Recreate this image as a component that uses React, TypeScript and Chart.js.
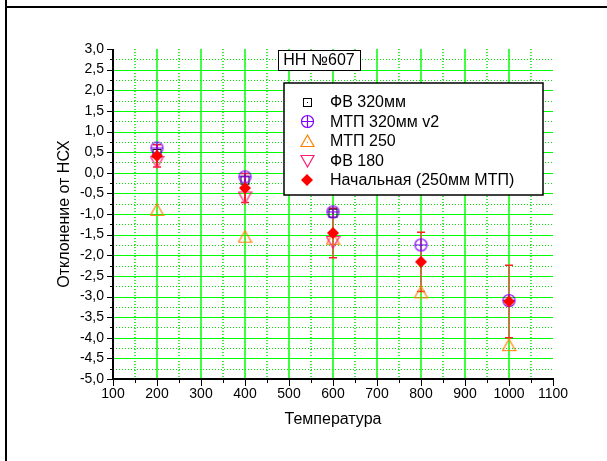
import React, { useEffect, useRef } from 'react';
import { Chart, registerables } from 'chart.js';

Chart.register(...registerables);

// ---- data ----
const temperatures = [200, 400, 600, 800, 1000];
const fv320 = [0.47, -0.18, -0.98, null, null];
const mtp320v2 = [0.6, -0.1, -0.95, -1.75, -3.1];
const mtp250 = [-0.9, -1.55, -1.6, -2.9, -4.18];
const fv180 = [0.26, -0.6, -1.68, null, null];
const initial = [0.41, -0.37, -1.46, -2.16, -3.12];
const initialErr = [0.27, 0.35, 0.6, 0.72, 0.88];

const seriesNames = ['ФВ 320мм', 'МТП 320мм v2', 'МТП 250', 'ФВ 180', 'Начальная (250мм МТП)'];
const plotTitle = 'НН №607';
const xTitle = 'Температура';
const yTitle = 'Отклонение от НСХ';

const FONT = '"Liberation Sans", Arial, sans-serif';

function mk(w: number, h: number, draw: (c: CanvasRenderingContext2D) => void) {
  const cv = document.createElement('canvas');
  cv.width = w;
  cv.height = h;
  const c = cv.getContext('2d')!;
  draw(c);
  return cv;
}

const squareImg = mk(11, 11, (c) => {
  c.strokeStyle = '#000';
  c.lineWidth = 1;
  c.strokeRect(1.5, 1.5, 8, 8);
  c.fillStyle = '#000';
  c.fillRect(5, 5, 1, 1);
});
const circlePlusImg = mk(15, 15, (c) => {
  c.strokeStyle = '#8000ff';
  c.lineWidth = 1.2;
  c.beginPath();
  c.arc(7.5, 7.5, 6, 0, Math.PI * 2);
  c.stroke();
  c.beginPath();
  c.moveTo(1.5, 7.5);
  c.lineTo(13.5, 7.5);
  c.moveTo(7.5, 1.5);
  c.lineTo(7.5, 13.5);
  c.stroke();
});
const triUpImg = mk(15, 14, (c) => {
  c.strokeStyle = '#ff8000';
  c.lineWidth = 1.2;
  c.beginPath();
  c.moveTo(7.5, 1);
  c.lineTo(1, 12.5);
  c.lineTo(14, 12.5);
  c.closePath();
  c.stroke();
  c.fillStyle = '#ff8000';
  c.fillRect(7, 8, 1, 1);
});
const triDownImg = mk(15, 14, (c) => {
  c.strokeStyle = '#ff1a75';
  c.lineWidth = 1.2;
  c.beginPath();
  c.moveTo(1, 1.5);
  c.lineTo(14, 1.5);
  c.lineTo(7.5, 13);
  c.closePath();
  c.stroke();
});
const diamondImg = mk(12, 12, (c) => {
  c.fillStyle = '#ff0000';
  c.beginPath();
  c.moveTo(6, 0);
  c.lineTo(12, 6);
  c.lineTo(6, 12);
  c.lineTo(0, 6);
  c.closePath();
  c.fill();
});

const markerImgs = [squareImg, circlePlusImg, triUpImg, triDownImg, diamondImg];

const customPlugin = {
  id: 'customDecor',
  beforeDatasetsDraw(chart: any) {
    const { ctx, chartArea: a, scales } = chart;
    const x = scales.x;
    const y = scales.y;
    const xt: number[] = x.ticks.map((t: any) => t.value);
    const yt: number[] = y.ticks.map((t: any) => t.value);
    ctx.save();
    // minor dotted grid
    ctx.strokeStyle = '#00e000';
    ctx.setLineDash([1, 2]);
    ctx.lineWidth = 1.5;
    ctx.beginPath();
    for (let i = 0; i < xt.length - 1; i++) {
      const px = Math.round(x.getPixelForValue((xt[i] + xt[i + 1]) / 2));
      ctx.moveTo(px, a.top);
      ctx.lineTo(px, a.bottom);
    }
    ctx.stroke();
    ctx.lineWidth = 1;
    ctx.beginPath();
    for (let i = 0; i < yt.length - 1; i++) {
      const py = Math.round(y.getPixelForValue((yt[i] + yt[i + 1]) / 2)) + 0.5;
      ctx.moveTo(a.left, py);
      ctx.lineTo(a.right, py);
    }
    ctx.stroke();
    // major solid grid
    ctx.setLineDash([]);
    ctx.strokeStyle = '#00ff00';
    ctx.lineWidth = 1.5;
    ctx.beginPath();
    for (let i = 1; i < xt.length - 1; i++) {
      const px = Math.round(x.getPixelForValue(xt[i]));
      ctx.moveTo(px, a.top);
      ctx.lineTo(px, a.bottom);
    }
    ctx.stroke();
    ctx.lineWidth = 1;
    ctx.beginPath();
    for (let i = 1; i < yt.length - 1; i++) {
      const py = Math.round(y.getPixelForValue(yt[i])) + 0.5;
      ctx.moveTo(a.left, py);
      ctx.lineTo(a.right, py);
    }
    ctx.stroke();
    // error bars of initial series
    for (let i = 0; i < temperatures.length; i++) {
      const v = initial[i];
      const e = initialErr[i];
      if (v == null) continue;
      const px = Math.round(x.getPixelForValue(temperatures[i]));
      const pTop = y.getPixelForValue(v + e);
      const pBot = y.getPixelForValue(v - e);
      ctx.strokeStyle = i < 2 ? '#ee2222' : '#b97a3c';
      ctx.lineWidth = 2;
      ctx.beginPath();
      ctx.moveTo(px, pTop);
      ctx.lineTo(px, pBot);
      ctx.stroke();
      ctx.strokeStyle = '#ff2020';
      ctx.lineWidth = 1.5;
      ctx.beginPath();
      ctx.moveTo(px - 4, pTop);
      ctx.lineTo(px + 4, pTop);
      ctx.moveTo(px - 4, pBot);
      ctx.lineTo(px + 4, pBot);
      ctx.stroke();
    }
    ctx.restore();
  },
  afterDraw(chart: any) {
    const { ctx, chartArea: a, scales } = chart;
    const x = scales.x;
    const y = scales.y;
    const xt: number[] = x.ticks.map((t: any) => t.value);
    const yt: number[] = y.ticks.map((t: any) => t.value);
    ctx.save();
    // axes
    ctx.strokeStyle = '#000';
    ctx.lineWidth = 2;
    ctx.beginPath();
    ctx.moveTo(a.left, a.top);
    ctx.lineTo(a.left, a.bottom + 1);
    ctx.moveTo(a.left - 1, a.bottom);
    ctx.lineTo(a.right + 1, a.bottom);
    ctx.stroke();
    ctx.lineWidth = 1;
    ctx.beginPath();
    yt.forEach((v, i) => {
      const py = Math.round(y.getPixelForValue(v)) + 0.5;
      ctx.moveTo(a.left - 6, py);
      ctx.lineTo(a.left, py);
      if (i < yt.length - 1) {
        const pm = Math.round(y.getPixelForValue((v + yt[i + 1]) / 2)) + 0.5;
        ctx.moveTo(a.left - 3, pm);
        ctx.lineTo(a.left, pm);
      }
    });
    xt.forEach((v, i) => {
      const px = Math.round(x.getPixelForValue(v)) + 0.5;
      ctx.moveTo(px, a.bottom);
      ctx.lineTo(px, a.bottom + 7);
      if (i < xt.length - 1) {
        const pm = Math.round(x.getPixelForValue((v + xt[i + 1]) / 2)) + 0.5;
        ctx.moveTo(pm, a.bottom);
        ctx.lineTo(pm, a.bottom + 4);
      }
    });
    ctx.stroke();

    // axis titles
    ctx.fillStyle = '#000';
    ctx.font = `16px ${FONT}`;
    ctx.textAlign = 'center';
    ctx.textBaseline = 'middle';
    ctx.fillText(xTitle, (a.left + a.right) / 2, a.bottom + 41);
    ctx.save();
    ctx.translate(a.left - 48, (a.top + a.bottom) / 2);
    ctx.rotate(-Math.PI / 2);
    ctx.fillText(yTitle, 0, 0);
    ctx.restore();

    // title box
    const tx = a.left + 165;
    const ty = a.top + 1;
    ctx.fillStyle = '#fff';
    ctx.fillRect(tx, ty, 82, 20);
    ctx.strokeStyle = '#000';
    ctx.lineWidth = 1;
    ctx.strokeRect(tx + 0.5, ty + 0.5, 82, 20);
    ctx.fillStyle = '#000';
    ctx.font = `16px ${FONT}`;
    ctx.fillText(plotTitle, tx + 41, ty + 11);

    // legend box
    const lx = a.left + 171;
    const ly = a.top + 34;
    const lw = 259;
    const lh = 112;
    ctx.fillStyle = '#fff';
    ctx.fillRect(lx, ly, lw, lh);
    ctx.lineWidth = 1.5;
    ctx.strokeRect(lx, ly, lw, lh);
    ctx.textAlign = 'left';
    ctx.fillStyle = '#000';
    ctx.font = `16px ${FONT}`;
    seriesNames.forEach((name, i) => {
      const cy = ly + 19 + i * 19.5;
      const img = markerImgs[i];
      ctx.drawImage(img, Math.round(lx + 23 - img.width / 2), Math.round(cy - img.height / 2));
      ctx.fillText(name, lx + 46, cy + 1);
    });
    ctx.restore();
  },
};

export default function App() {
  const ref = useRef<HTMLCanvasElement>(null);
  useEffect(() => {
    if (!ref.current) return;
    const series = [fv320, mtp320v2, mtp250, fv180, initial];
    const orders = [5, 4, 3, 2, 1];
    const chart = new Chart(ref.current, {
      type: 'scatter',
      data: {
        datasets: series.map((vals, i) => ({
          label: seriesNames[i],
          data: temperatures
            .map((t, j) => ({ x: t, y: vals[j] }))
            .filter((p) => p.y != null) as any,
          pointStyle: markerImgs[i] as any,
          pointRadius: 6,
          showLine: false,
          order: orders[i],
        })),
      },
      options: {
        animation: false,
        responsive: false,
        devicePixelRatio: 1,
        layout: { padding: { top: 49, right: 54, left: 0, bottom: 0 } },
        plugins: { legend: { display: false }, tooltip: { enabled: false } },
        scales: {
          x: {
            type: 'linear',
            min: 100,
            max: 1100,
            grid: { display: false, drawTicks: false },
            border: { display: false },
            ticks: {
              stepSize: 100,
              autoSkip: false,
              maxRotation: 0,
              padding: 7,
              color: '#000',
              font: { family: FONT, size: 14 },
              callback: (v: any) => String(v),
            },
            afterFit: (s: any) => {
              s.height = 82;
            },
          },
          y: {
            type: 'linear',
            min: -5,
            max: 3,
            grid: { display: false, drawTicks: false },
            border: { display: false },
            ticks: {
              stepSize: 0.5,
              autoSkip: false,
              padding: 9,
              color: '#000',
              font: { family: FONT, size: 14 },
              callback: (v: any) => Number(v).toFixed(1).replace('.', ','),
            },
            afterFit: (s: any) => {
              s.width = 113;
            },
          },
        },
      },
      plugins: [customPlugin],
    });
    return () => chart.destroy();
  }, []);
  return (
    <div>
      <div style={{ position: 'fixed', left: 5, top: 0, width: 2, height: 461, background: '#000' }} />
      <div style={{ position: 'fixed', left: 5, top: 6, width: 602, height: 2, background: '#000' }} />
      <canvas
        ref={ref}
        width={607}
        height={461}
        style={{ position: 'fixed', left: 0, top: 0, width: 607, height: 461 }}
      />
    </div>
  );
}
